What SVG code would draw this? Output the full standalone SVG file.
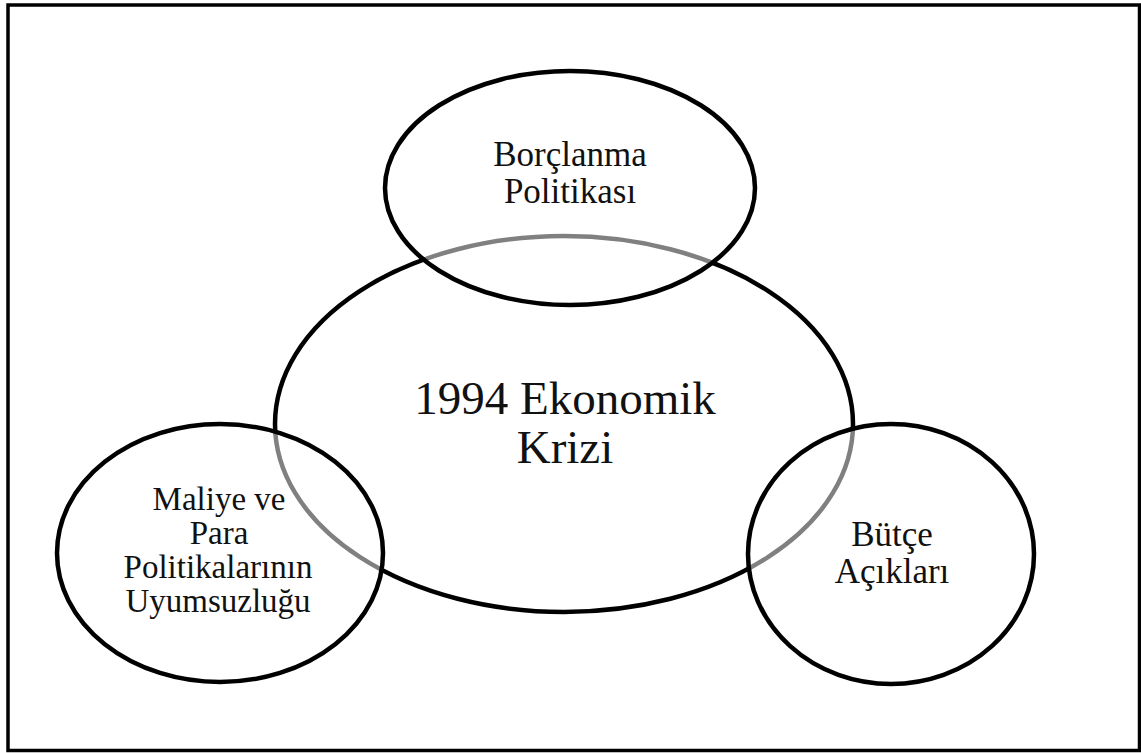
<svg xmlns="http://www.w3.org/2000/svg" width="1141" height="753" viewBox="0 0 1141 753">
<style>
.e{stroke:#000;stroke-width:4.5}
.s{fill:#fff;fill-opacity:0.5}
.t{font-family:"Liberation Serif","Times New Roman",serif;fill:#111;text-anchor:middle}
.m{font-size:35px}
.l{font-size:33px}
.b{font-size:47px}
</style>
<rect x="0" y="0" width="1141" height="753" fill="#fff"/>
<rect x="8" y="5" width="1131.5" height="745.5" fill="none" stroke="#000" stroke-width="3.5"/>
<g id="center">
<ellipse class="e" cx="564" cy="424" rx="289" ry="188" fill="#fff"/>
<text class="t b" x="565" y="414">1994 Ekonomik</text>
<text class="t b" x="565" y="463">Krizi</text>
</g>
<g id="top">
<ellipse class="e s" cx="570" cy="188" rx="185" ry="117"/>
<text class="t m" x="570" y="166">Borçlanma</text>
<text class="t m" x="570" y="203">Politikası</text>
</g>
<g id="left">
<ellipse class="e s" cx="220" cy="553" rx="163" ry="129"/>
<text class="t l" x="219" y="510">Maliye ve</text>
<text class="t l" x="219" y="544">Para</text>
<text class="t l" x="218" y="578">Politikalarının</text>
<text class="t l" x="218" y="612">Uyumsuzluğu</text>
</g>
<g id="right">
<ellipse class="e s" cx="891" cy="554" rx="143" ry="130"/>
<text class="t m" x="892" y="546">Bütçe</text>
<text class="t m" x="892" y="583">Açıkları</text>
</g>
<g id="connectors"/>
</svg>
